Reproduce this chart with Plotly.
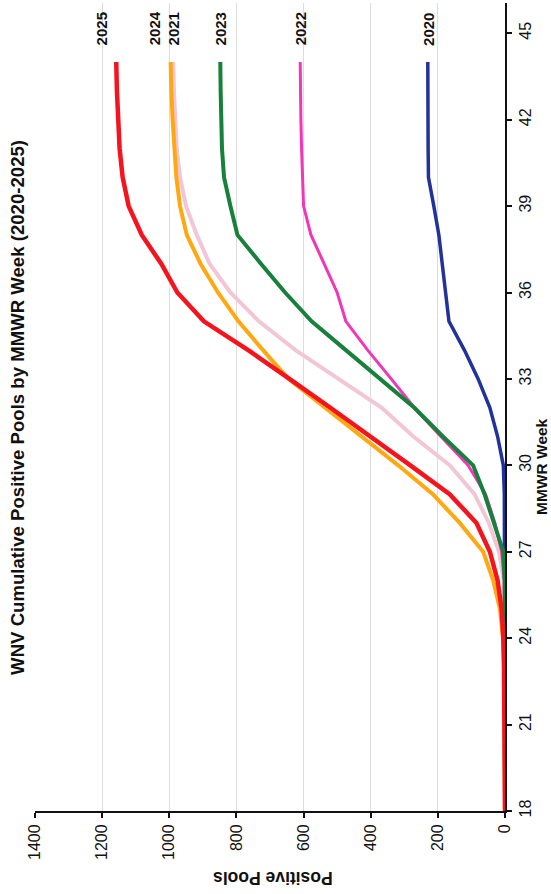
import plotly.graph_objects as go

weeks = list(range(18, 45))

pools_2020 = [0, 0, 0, 0, 0, 0, 0, 0, 0, 0, 0, 2, 5, 22, 45, 80, 121, 167, 177, 186, 197, 212, 228, 229, 230, 230, 230]
pools_2021 = [0, 0, 0, 0, 0, 0, 0, 1, 4, 18, 48, 91, 164, 273, 367, 494, 624, 733, 818, 880, 918, 950, 968, 978, 983, 986, 988]
pools_2022 = [0, 0, 0, 0, 0, 0, 0, 0, 2, 10, 30, 58, 110, 191, 270, 339, 409, 474, 500, 539, 578, 600, 604, 606, 608, 609, 610]
pools_2023 = [0, 0, 0, 0, 0, 0, 0, 0, 1, 5, 33, 61, 95, 185, 270, 370, 474, 576, 655, 727, 797, 818, 837, 843, 846, 847, 848]
pools_2024 = [0, 0, 0, 0, 0, 2, 6, 15, 35, 65, 135, 215, 318, 427, 539, 645, 721, 794, 855, 907, 948, 968, 979, 985, 990, 994, 996]
pools_2025 = [0, 0, 0, 1, 2, 3, 5, 10, 22, 45, 85, 165, 282, 400, 520, 642, 765, 897, 976, 1024, 1082, 1121, 1139, 1148, 1153, 1156, 1158]

series = [
    ("2020", pools_2020, "#23329a", 3.5, 0),
    ("2021", pools_2021, "#f2c6d6", 4, 0),
    ("2022", pools_2022, "#f236b8", 3, 0),
    ("2023", pools_2023, "#17803a", 4, 0),
    ("2024", pools_2024, "#ffa812", 4, -16),
    ("2025", pools_2025, "#f5141e", 4.5, -15),
]

week_ticks = [18, 21, 24, 27, 30, 33, 36, 39, 42, 45]
pool_ticks = [0, 200, 400, 600, 800, 1000, 1200, 1400]

FONT = "Liberation Sans, Arial, sans-serif"

fig = go.Figure()
for name, vals, color, width, _ in series:
    fig.add_trace(go.Scatter(x=vals, y=weeks, mode="lines", name=name,
                             line=dict(color=color, width=width), showlegend=False))

for name, vals, color, width, shift in series:
    fig.add_annotation(x=vals[-1], y=44.5, text="<b>" + name + "</b>", textangle=-90,
                       showarrow=False, xanchor="center", yanchor="bottom", xshift=shift,
                       font=dict(family=FONT, size=15, color="#111111"))

fig.add_annotation(xref="paper", yref="paper", x=-0.036, y=0.499,
                   text="<b>WNV Cumulative Positive Pools by MMWR Week (2020-2025)</b>",
                   textangle=-90, showarrow=False, xanchor="center", yanchor="middle",
                   font=dict(family=FONT, size=18.6, color="#111111"))
fig.add_annotation(xref="paper", yref="paper", x=1.079, y=0.426,
                   text="<b>MMWR Week</b>", textangle=-90, showarrow=False,
                   xanchor="center", yanchor="middle",
                   font=dict(family=FONT, size=15.5, color="#111111"))
fig.add_annotation(xref="paper", yref="paper", x=0.505, y=-0.083,
                   text="<b>Positive Pools</b>", textangle=180, showarrow=False,
                   xanchor="center", yanchor="middle",
                   font=dict(family=FONT, size=17.5, color="#111111"))

fig.update_xaxes(range=[1400, 0], tickvals=pool_ticks, ticktext=[str(t) for t in pool_ticks],
                 tickangle=-90, showgrid=True, gridcolor="#dcdcdc", gridwidth=1,
                 showline=True, linecolor="#111111", linewidth=2, ticks="outside",
                 ticklen=5, tickwidth=2, tickcolor="#111111", zeroline=False,
                 tickfont=dict(family=FONT, size=16, color="#111111"))
fig.update_yaxes(range=[18, 46.05], tickvals=week_ticks, ticktext=[str(t) for t in week_ticks],
                 side="right", tickangle=-90, showgrid=False, showline=True,
                 linecolor="#111111", linewidth=2, ticks="outside", ticklen=5, tickwidth=2,
                 tickcolor="#111111", zeroline=False,
                 tickfont=dict(family=FONT, size=16, color="#111111"))

fig.update_layout(width=551, height=894, margin=dict(l=35, r=46, t=3, b=83),
                  plot_bgcolor="white", paper_bgcolor="white")

fig.write_html("out.html", config={"displayModeBar": False},
               post_script="document.body.style.margin='0';document.body.style.overflow='hidden';")
